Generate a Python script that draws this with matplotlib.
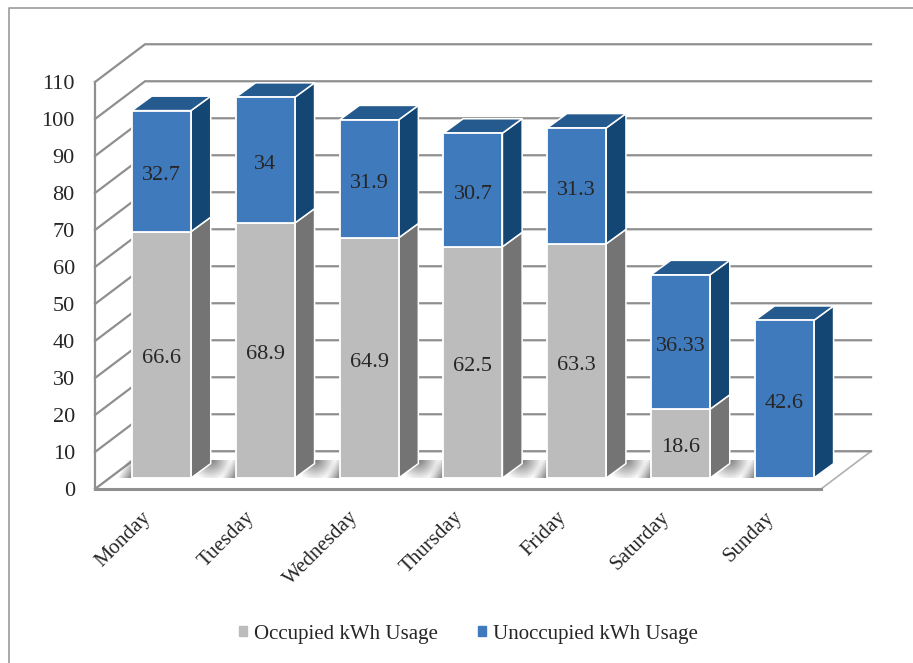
import numpy as np
import matplotlib
matplotlib.use("Agg")
import matplotlib.pyplot as plt
from matplotlib.lines import Line2D
from matplotlib.patches import Patch, Polygon
from matplotlib.transforms import ScaledTranslation

days = ["Monday", "Tuesday", "Wednesday", "Thursday", "Friday", "Saturday", "Sunday"]
occupied = [66.6, 68.9, 64.9, 62.5, 63.3, 18.6, 0]
unoccupied = [32.7, 34, 31.9, 30.7, 31.3, 36.33, 42.6]
occupied_labels = ["66.6", "68.9", "64.9", "62.5", "63.3", "18.6", ""]
unoccupied_labels = ["32.7", "34", "31.9", "30.7", "31.3", "36.33", "42.6"]
yticks = list(range(0, 111, 10))

GREY = ("#bcbcbc", "#747474", "#9a9a9a")
BLUE = ("#3f7abd", "#134673", "#255a8e")
GRID = "#8f8f8f"
TEXT = "#262626"

W, H = 913, 663
# 3d offsets, in data units
BAR_W = 0.568
BAR_DX, BAR_DY = 0.19, 3.9
WALL_DX, WALL_DY = 0.482, 10.2
LIFT = 2.97
# pixels per data unit
PX_X, PX_Y = 103.8, 3.7

plt.rcParams["font.family"] = ["Liberation Serif", "DejaVu Serif"]
fig = plt.figure(figsize=(W / 100, H / 100), dpi=100)
ax = fig.add_axes([95 / W, 1 - 489 / H, 726 / W, 407 / H])
ax.patch.set_visible(False)
for s in ax.spines.values():
    s.set_visible(False)
xlim = (-0.641, 6.353)

# chart frame
fig.add_artist(Line2D([9 / W, 9 / W, 1], [0, 1 - 8 / H, 1 - 8 / H], color="#a3a3a3", lw=1.3))

# floor
ax.add_patch(Polygon([(xlim[0], 0), (xlim[1], 0), (xlim[1] + WALL_DX, WALL_DY), (xlim[0] + WALL_DX, WALL_DY)],
                     closed=True, fc="white", ec="#b0b0b0", lw=1.2, zorder=1, clip_on=False))

# walls
for t in yticks:
    ax.plot([xlim[0], xlim[0] + WALL_DX, xlim[1] + WALL_DX], [t, t + WALL_DY, t + WALL_DY],
            color=GRID, lw=1.6, zorder=2, clip_on=False, solid_joinstyle="miter")
ax.plot([xlim[0], xlim[0]], [0, 110], color=GRID, lw=1.6, zorder=2, clip_on=False)
ax.plot([xlim[0], xlim[1]], [0, 0], color=GRID, lw=2.2, zorder=2, clip_on=False)


def add_shadow(x):
    # soft floor shadow: a band left of the bar and a fan from its back corner
    left_px, right_px = -BAR_W / 2 * PX_X, (BAR_W / 2 + BAR_DX) * PX_X
    top_px = 18
    px = np.arange(left_px - 16, right_px + 24, 0.5)
    py = np.arange(0, top_px, 0.5)
    gx, gy = np.meshgrid(px, py)
    band = np.clip(1 - ((left_px - gx) + gy * 0.55) / 15, 0, 1)
    band[gx > left_px] = 0
    fan = np.clip(1 - np.hypot(gx - right_px, top_px - gy) / 21, 0, 1)
    img = np.zeros((len(py), len(px), 4))
    img[..., :3] = 0.42
    img[..., 3] = 0.9 * np.maximum(band, fan)
    ax.imshow(img, origin="lower", aspect="auto", zorder=3, interpolation="bilinear",
              extent=(x + px[0] / PX_X, x + px[-1] / PX_X, LIFT, LIFT + top_px / PX_Y))


def add_block(x, bottom, height, colors, top):
    front, side, cap = colors
    l, r = x - BAR_W / 2, x + BAR_W / 2
    y0, y1 = bottom + LIFT, bottom + height + LIFT
    ax.add_patch(Polygon([(r, y0), (r + BAR_DX, y0 + BAR_DY), (r + BAR_DX, y1 + BAR_DY), (r, y1)],
                         fc=side, ec="white", lw=1.1, zorder=4, clip_on=False, joinstyle="round"))
    if top:
        ax.add_patch(Polygon([(l, y1), (r, y1), (r + BAR_DX, y1 + BAR_DY), (l + BAR_DX, y1 + BAR_DY)],
                             fc=cap, ec="white", lw=1.1, zorder=4, clip_on=False, joinstyle="round"))
    ax.bar(x, height, BAR_W, bottom=y0, color=front, edgecolor="white", lw=1.3, zorder=5, clip_on=False)


# nudge the value labels down a little from the exact segment middle
label_shift = ScaledTranslation(0, -1.2 / 72, fig.dpi_scale_trans)
for i in range(len(days)):
    add_shadow(i)
    if occupied[i] > 0:
        add_block(i, 0, occupied[i], GREY, False)
    add_block(i, occupied[i], unoccupied[i], BLUE, True)
    if occupied_labels[i]:
        ax.text(i, LIFT + occupied[i] / 2, occupied_labels[i], ha="center", va="center_baseline",
                fontsize=16, color=TEXT, zorder=6, transform=ax.transData + label_shift)
    ax.text(i, LIFT + occupied[i] + unoccupied[i] / 2, unoccupied_labels[i], ha="center", va="center_baseline",
            fontsize=16, color=TEXT, zorder=6, transform=ax.transData + label_shift)

ax.set_xlim(*xlim)
ax.set_ylim(0, 110)
ax.set_yticks(yticks)
ax.tick_params(axis="y", length=0, pad=14.5, labelsize=16, labelcolor=TEXT)
ax.set_xticks(range(len(days)), days)
ax.tick_params(axis="x", length=0, labelsize=15, labelcolor=TEXT)
shift = ScaledTranslation(-14.5 / 72, -10 / 72, fig.dpi_scale_trans)
for lab in ax.get_xticklabels():
    lab.set(rotation=45, ha="right", va="top", rotation_mode="anchor")
    lab.set_transform(lab.get_transform() + shift)

handles = [Patch(color="#bcbcbc", label="Occupied kWh Usage"), Patch(color="#3f7abd", label="Unoccupied kWh Usage")]
fig.legend(handles=handles, loc="center", bbox_to_anchor=(468.5 / W, 1 - 634 / H), ncol=2, frameon=False,
           fontsize=15, labelcolor=TEXT, handlelength=0.38, handleheight=0.38, handletextpad=0.35,
           columnspacing=1.9)

fig.savefig("out.png", dpi=100)
